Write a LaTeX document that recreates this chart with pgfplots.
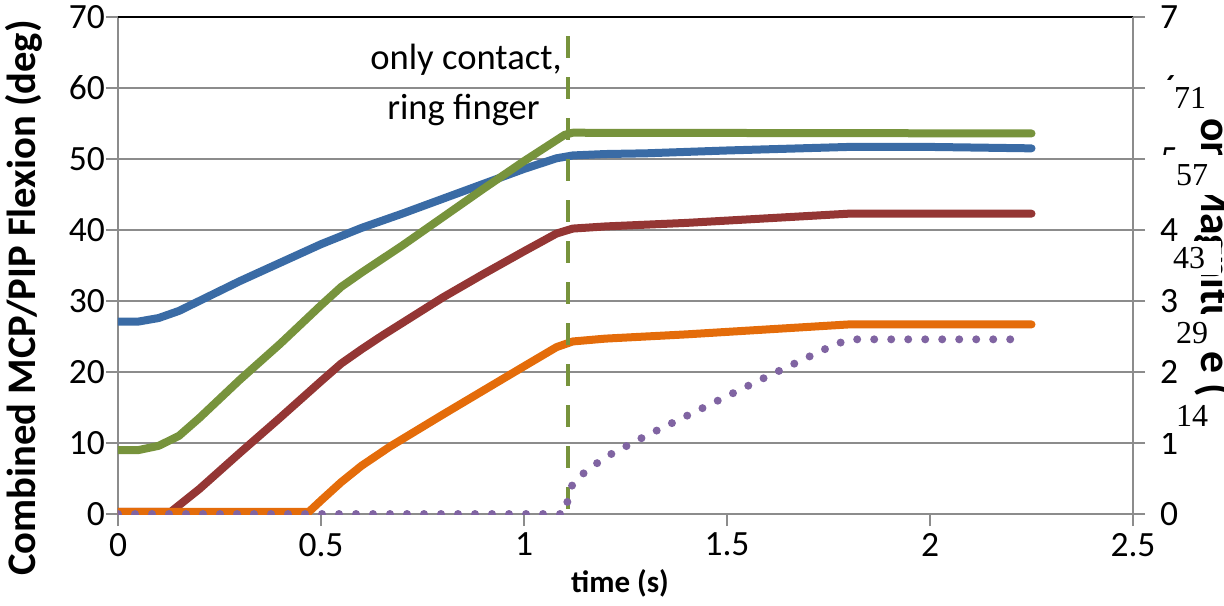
\documentclass[border=0pt]{standalone}
\usepackage{pgfplots}
\pgfplotsset{compat=1.18}
\usepackage{fontspec}
\setmainfont{Carlito}
\newfontfamily\timesfont{Liberation Serif}
\definecolor{cblue}{HTML}{3A6BA5}
\definecolor{cred}{HTML}{943634}
\definecolor{cgreen}{HTML}{77933C}
\definecolor{corange}{HTML}{E46C0A}
\definecolor{cpurple}{HTML}{8064A2}
\definecolor{cgrid}{HTML}{8C8C8C}
\newlength\wa
\newlength\wpre
\begin{document}%
\settowidth\wa{\bfseries\fontsize{20}{24}\selectfont on Magnitude\ }%
\pgfmathsetmacro\rfs{20*132.5/\wa}%
\settowidth\wpre{\bfseries\fontsize{\rfs}{\rfs}\selectfont Vibrati}%
\begin{tikzpicture}
\begin{axis}[name=ax, scale only axis, width=507.5pt, height=248.5pt,
  xmin=0, xmax=2.5, ymin=0, ymax=70,
  xtick={0,0.5,1,1.5,2,2.5}, ytick={0,10,20,30,40,50,60,70},
  xtick pos=bottom, ytick pos=left,
  tick align=outside, major tick length=6pt,
  ymajorgrids, grid style={cgrid, line width=1.1pt},
  axis line style={cgrid, line width=1.1pt},
  tick style={cgrid, line width=1.1pt},
  tick label style={font=\fontsize{17.75}{20}\selectfont, text=black},
  /pgf/number format/assume math mode=true,
  yticklabel style={xshift=3pt},
  ]
\addplot[cblue, line width=4pt, line cap=round, line join=round] coordinates {
(0,27.1) (0.05,27.1) (0.1,27.6) (0.15,28.6) (0.2,30.0) (0.25,31.4) (0.3,32.8) (0.4,35.4) (0.5,38.0) (0.6,40.3) (0.7,42.3) (0.8,44.4) (0.9,46.5) (1.0,48.6) (1.08,50.1) (1.12,50.5) (1.2,50.7) (1.3,50.8) (1.5,51.2) (1.8,51.7) (2.0,51.7) (2.25,51.5)};
\addplot[cred, line width=4pt, line cap=round, line join=round] coordinates {
(0,0.3) (0.13,0.3) (0.2,3.5) (0.3,8.6) (0.4,13.6) (0.5,18.7) (0.55,21.2) (0.6,23.2) (0.65,25.1) (0.7,26.9) (0.8,30.5) (0.9,33.8) (1.0,37.0) (1.08,39.5) (1.12,40.2) (1.2,40.5) (1.4,41.0) (1.8,42.3) (2.25,42.3)};
\addplot[cgreen, line width=4pt, line cap=round, line join=round] coordinates {
(0,9.0) (0.05,9.0) (0.1,9.6) (0.15,11.0) (0.2,13.5) (0.3,18.9) (0.4,24.0) (0.5,29.4) (0.55,32.0) (0.6,34.0) (0.7,37.8) (0.8,41.8) (0.9,45.8) (1.0,49.7) (1.1,53.4) (1.12,53.7) (2.25,53.6)};
\addplot[corange, line width=4pt, line cap=round, line join=round] coordinates {
(0,0.3) (0.47,0.3) (0.5,1.9) (0.55,4.5) (0.6,6.8) (0.67,9.5) (0.8,14.0) (0.9,17.4) (1.0,20.8) (1.08,23.5) (1.12,24.3) (1.2,24.7) (1.4,25.3) (1.6,26.0) (1.8,26.7) (2.25,26.7)};
\addplot[cgreen, line width=2pt, dash pattern=on 11pt off 9.5pt] coordinates {(1.108,67.3) (1.108,0)};
\addplot[cpurple, line width=4pt, line cap=round, dash pattern=on 0pt off 8.5pt] coordinates {
(0,0) (1.1,0) (1.11,2.5) (1.12,4.3) (1.15,5.9) (1.2,8.0) (1.3,11.0) (1.4,13.8) (1.5,16.6) (1.6,19.4) (1.7,22.1) (1.77,24.0) (1.81,24.6) (2.22,24.6)};
\draw[black, line width=1.1pt] (axis cs:0,70) -- (axis cs:2.5,70);
\end{axis}
\begin{axis}[scale only axis, width=507.5pt, height=248.5pt,
  xmin=0, xmax=2.5, ymin=0, ymax=7,
  axis y line*=right, axis x line=none,
  ytick={0,1,2,3,4,5,6,7},
  tick align=outside, major tick length=6pt,
  axis line style={cgrid, line width=1.1pt},
  tick style={cgrid, line width=1.1pt},
  tick label style={font=\fontsize{17.75}{20}\selectfont, text=black},
  /pgf/number format/assume math mode=true,
  yticklabel style={xshift=4pt},
  ]
\addplot[draw=none] coordinates {(0,0)};
\end{axis}
\pgfresetboundingbox
\begin{scope}[shift={(ax.south west)}, xshift=-59pt, yshift=257pt, x=0.5pt, y=-0.5pt]
\path[use as bounding box] (0,0) rectangle (1224,605);
\node[rotate=90, anchor=base, font=\bfseries\fontsize{20.3}{24}\selectfont] at (36,298) {Combined MCP/PIP Flexion (deg)};
\node[anchor=base, font=\bfseries\fontsize{15.5}{18}\selectfont] at (620,592) {time (s)};
\node[anchor=base, font=\fontsize{18.3}{22}\selectfont] at (466,70) {only contact,};
\node[anchor=base, font=\fontsize{18.3}{22}\selectfont] at (463.5,120) {ring finger};
\begin{scope}
\clip (1140,117) rectangle (1224,605);
\node[yshift=\wpre, rotate=-90, anchor=base west, inner xsep=0pt, font=\bfseries\fontsize{\rfs}{\rfs}\selectfont] at (1201,118) {Vibration Magnitude (V)};
\end{scope}
\tikzset{ov/.style={fill=white, inner sep=0pt, minimum width=32pt, minimum height=18pt, font=\timesfont\fontsize{16}{18}\selectfont}}
\node[ov] at (1190,98) {71};
\node[ov, minimum height=20pt] at (1192,175) {57};
\node[ov, minimum height=17pt] at (1189,258) {43};
\node[ov, minimum height=19pt] at (1192,333) {29};
\node[ov, minimum height=17pt] at (1192,416) {14};
\end{scope}
\end{tikzpicture}%
\end{document}
